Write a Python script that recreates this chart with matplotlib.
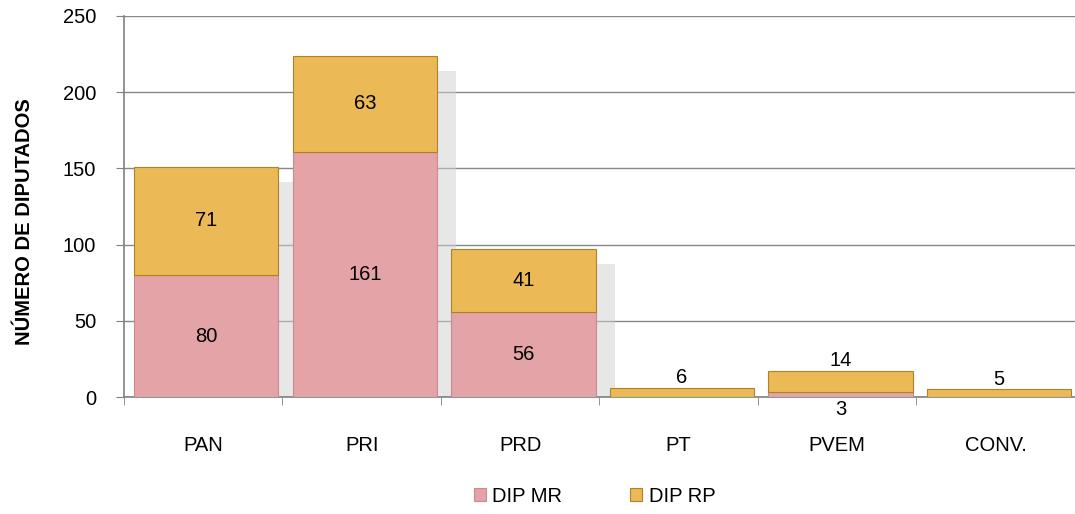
import matplotlib
matplotlib.use("Agg")
import matplotlib.pyplot as plt
import numpy as np

plt.rcParams['font.family'] = ['Liberation Sans', 'DejaVu Sans']

parties = ["PAN", "PRI", "PRD", "PT", "PVEM", "CONV."]
dip_mr = [80, 161, 56, 0, 3, 0]
dip_rp = [71, 63, 41, 6, 14, 5]
yticks = [0, 50, 100, 150, 200, 250]

FS = 14.5

fig = plt.figure(figsize=(10.75, 5.14), dpi=100)
ax = fig.add_axes([0.1153, 0.2276, 0.8847, 0.7413])

x = np.arange(len(parties))
w = 0.91
c_mr = "#E4A3A6"
c_rp = "#EBB956"

# soft shadows behind large bars
for xi, (m, r) in zip(x, zip(dip_mr, dip_rp)):
    tot = m + r
    if tot > 20:
        ax.bar(xi + 0.14, tot - 10, width=w, bottom=0, color="#d0d0d0", alpha=0.5,
               zorder=1, edgecolor="none")

b1 = ax.bar(x + 0.02, dip_mr, width=w, color=c_mr, edgecolor="#c98a8e", linewidth=0.8,
            label="DIP MR", zorder=3)
b2 = ax.bar(x + 0.02, dip_rp, width=w, bottom=dip_mr, color=c_rp, edgecolor="#b08226",
            linewidth=0.8, label="DIP RP", zorder=3)

for xi, m, r in zip(x, dip_mr, dip_rp):
    xc = xi + 0.02
    if m >= 20:
        ax.text(xc, m / 2, str(m), ha="center", va="center", fontsize=FS, zorder=5)
    elif m > 0:
        ax.text(xc, -2.0, str(m), ha="center", va="top", fontsize=FS, zorder=5)
    if r >= 20:
        ax.text(xc, m + r / 2, str(r), ha="center", va="center", fontsize=FS, zorder=5)
    else:
        ax.text(xc, m + r + 0.5, str(r), ha="center", va="bottom", fontsize=FS, zorder=5)

ax.set_ylim(0, 250)
ax.set_xlim(-0.5, len(parties) - 0.5)
ax.set_yticks(yticks)
ax.set_yticklabels([str(t) for t in yticks], fontsize=FS)
ax.yaxis.grid(True, color="#878787", linewidth=1.0, zorder=0)
ax.set_axisbelow(True)

ax.set_xticks(x)
ax.set_xticklabels(parties, fontsize=FS)
ax.tick_params(axis="x", length=0, pad=28)
ax.set_xticks(np.arange(len(parties) + 1) - 0.5, minor=True)
ax.tick_params(axis="x", which="minor", length=6, color="#808080", direction="out")
ax.tick_params(axis="y", length=6, color="#808080", direction="out", pad=14)

for s in ["top", "right"]:
    ax.spines[s].set_visible(False)
for s in ["left", "bottom"]:
    ax.spines[s].set_color("#808080")
    ax.spines[s].set_linewidth(1.2)

ax.set_ylabel("NÚMERO DE DIPUTADOS", fontsize=FS, fontweight="bold")
ax.yaxis.set_label_coords(-0.095, 0.46)

leg = fig.legend(handles=[b1, b2], labels=["DIP MR", "DIP RP"], loc="center",
                 bbox_to_anchor=(0.553, 0.035), ncol=2, frameon=False, fontsize=FS,
                 handlelength=0.6, handleheight=0.6, handletextpad=0.3, columnspacing=3.4)

fig.savefig("out.png", dpi=100)
